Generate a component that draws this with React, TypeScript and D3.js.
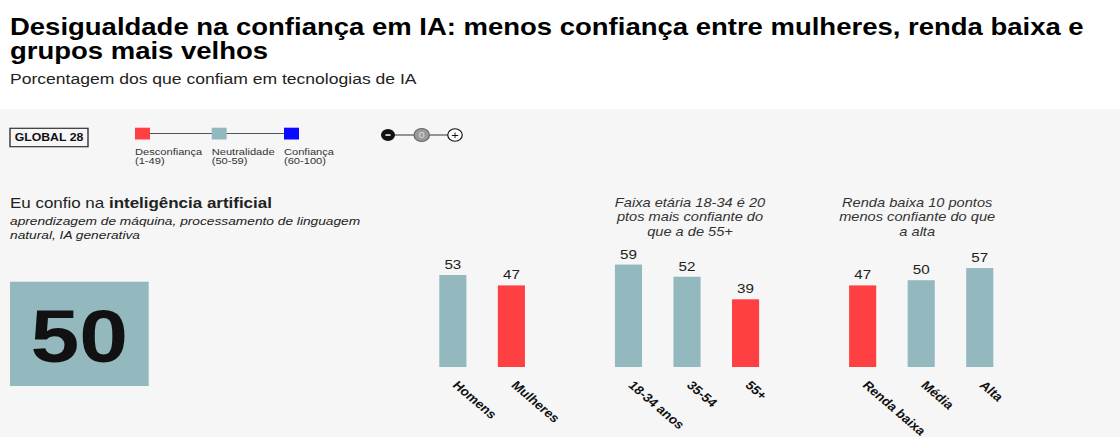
import React from "react";
import * as d3 from "d3";

// ---------- data ----------
const titleLines = [
  "Desigualdade na confiança em IA: menos confiança entre mulheres, renda baixa e",
  "grupos mais velhos",
];
const subtitle = "Porcentagem dos que confiam em tecnologias de IA";
const regionLabel = "GLOBAL 28";
const legendLabels = ["Desconfiança", "Neutralidade", "Confiança"];
const legendRanges = ["(1-49)", "(50-59)", "(60-100)"];
const legendThresholds = [50, 60];
const overallScore = 50;
const questionLead = "Eu confio na ";
const questionBold = "inteligência artificial";
const questionNote = [
  "aprendizagem de máquina, processamento de linguagem",
  "natural, IA generativa",
];
const categories = ["Homens", "Mulheres", "18-34 anos", "35-54", "55+", "Renda baixa", "Média", "Alta"];
const values = [53, 47, 59, 52, 39, 47, 50, 57];
const slots = ["Homens", "Mulheres", "gap1", "18-34 anos", "35-54", "55+", "gap2", "Renda baixa", "Média", "Alta"];
const ageNote = ["Faixa etária 18-34 é 20", "ptos mais confiante do", "que a de 55+"];
const incomeNote = ["Renda baixa 10 pontos", "menos confiante do que", "a alta"];

// ---------- style ----------
const S = 1.17; // horizontal stretch of the original picture
const W = 1120;
const H = 437;
const FONT = "'Liberation Sans', Arial, Helvetica, sans-serif";
const RED = "#ff4043";
const TEAL = "#93b9bf";
const BLUE = "#0a0aff";
const px = (x: number) => x / S;

const color = d3.scaleThreshold<number, string>().domain(legendThresholds).range([RED, TEAL, BLUE]);

export default function App() {
  const x = d3.scaleBand<string>().domain(slots).range([px(439.3), px(993.3)]).paddingInner(0.537).paddingOuter(0);
  const y = d3.scaleLinear().domain([0, 100]).range([367, 367 - 173.6]);
  const bw = x.bandwidth();
  const cx = (c: string) => (x(c) as number) + bw / 2;

  const legendX = [135, 211.7, 284].map(px);
  const togglesX = [388, 421.7, 455].map(px);

  return (
    <svg width={W} height={H} style={{ position: "absolute", left: 0, top: 0, display: "block" }} fontFamily={FONT}>
      <rect x={0} y={0} width={W} height={H} fill="#ffffff" />
      <rect x={0} y={109} width={W} height={H - 109} fill="#f6f6f6" />
      <g transform={`scale(${S},1)`}>
        {/* title */}
        {titleLines.map((t, i) => (
          <text key={t} x={px(10)} y={35.5 + i * 23.5} fontSize={23.5} fontWeight="bold" fill="#000">
            {t}
          </text>
        ))}
        <text x={px(10)} y={84} fontSize={15} fill="#222">{subtitle}</text>

        {/* region box */}
        <rect x={px(10)} y={128.3} width={px(78)} height={18.4} fill="#f6f6f6" stroke="#333" strokeWidth={1.2} />
        <text x={px(49)} y={141.5} fontSize={10.5} fontWeight="bold" textAnchor="middle" fill="#111">{regionLabel}</text>

        {/* legend */}
        <line x1={legendX[0]} x2={legendX[2]} y1={133.5} y2={133.5} stroke="#555" strokeWidth={1} />
        {legendLabels.map((l, i) => (
          <g key={l}>
            <rect x={legendX[i]} y={127.7} width={px(15)} height={11.8} fill={color(legendThresholds[0] - 1 + (i === 0 ? 0 : i === 1 ? 1 : 11))} />
            <text x={legendX[i]} y={155} fontSize={9.5} fill="#333">{l}</text>
            <text x={legendX[i]} y={164.3} fontSize={9.5} fill="#333">{legendRanges[i]}</text>
          </g>
        ))}

        {/* toggles */}
        <line x1={togglesX[0]} x2={togglesX[2]} y1={135} y2={135} stroke="#333" strokeWidth={1.2} />
        <circle cx={togglesX[0]} cy={135} r={6} fill="#111" />
        <rect x={togglesX[0] - 2.2} y={134.3} width={4.4} height={1.5} fill="#fff" />
        <circle cx={togglesX[1]} cy={135} r={6.6} fill="#9a9a9a" stroke="#666" strokeWidth={1} />
        <text x={togglesX[1]} y={138.3} fontSize={9} textAnchor="middle" fill="#ddd">0</text>
        <circle cx={togglesX[2]} cy={135} r={6.2} fill="#fff" stroke="#111" strokeWidth={1} />
        <text x={togglesX[2]} y={138.6} fontSize={11} textAnchor="middle" fill="#111">+</text>

        {/* question */}
        <text x={px(10)} y={208.3} fontSize={14.5} fill="#222">
          {questionLead}
          <tspan fontWeight="bold">{questionBold}</tspan>
        </text>
        {questionNote.map((t, i) => (
          <text key={t} x={px(10)} y={225 + i * 14.4} fontSize={11.75} fontStyle="italic" fill="#222">{t}</text>
        ))}

        {/* overall score */}
        <rect x={px(10)} y={281.7} width={px(138.7)} height={104.3} fill={color(overallScore)} />
        <text x={px(79.3)} y={361.7} fontSize={75} fontWeight="bold" textAnchor="middle" fill="#111">{overallScore}</text>

        {/* bars */}
        {categories.map((c, i) => (
          <g key={c}>
            <rect x={x(c)} y={y(values[i])} width={bw} height={y(0) - y(values[i])} fill={color(values[i])} />
            <text x={cx(c)} y={y(values[i]) - 6} fontSize={13} textAnchor="middle" fill="#222">{values[i]}</text>
            <text transform={`translate(${cx(c) - px(1)},386) rotate(45)`} fontSize={12} fontWeight="bold" fill="#111">{c}</text>
          </g>
        ))}

        {/* annotations */}
        {ageNote.map((t, i) => (
          <text key={t} x={cx("35-54") + px(3)} y={206.7 + i * 14.5} fontSize={12.5} fontStyle="italic" textAnchor="middle" fill="#333">{t}</text>
        ))}
        {incomeNote.map((t, i) => (
          <text key={t} x={cx("Média") - px(4)} y={207 + i * 14.5} fontSize={12.5} fontStyle="italic" textAnchor="middle" fill="#333">{t}</text>
        ))}
      </g>
    </svg>
  );
}
